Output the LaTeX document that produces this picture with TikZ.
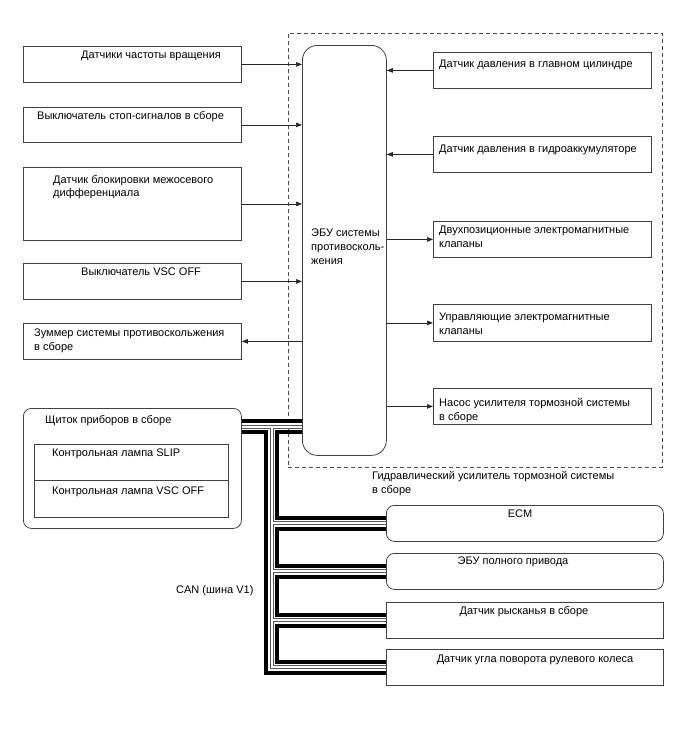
\documentclass[tikz,border=0pt]{standalone}
\usepackage{fontspec}
\setmainfont{Liberation Sans}
\usetikzlibrary{arrows.meta}

\begin{document}
\begin{tikzpicture}[x=1pt, y=-1pt,
  every node/.style={font=\fontsize{11}{13.7}\selectfont, inner sep=0pt},
  blk/.style ={draw=black!75, line width=0.8pt, anchor=north west, minimum width=218, minimum height=36},
  rblk/.style={blk, rounded corners=8pt},
  dev/.style ={blk, minimum width=277},
  grp/.style ={draw=black!70, line width=0.7pt, dash pattern=on 4pt off 3pt, anchor=north west},
  lbl/.style ={anchor=north west, align=left},
  clbl/.style={anchor=north},
  flow/.style={-{Triangle[length=6pt,width=4.5pt]}, line width=0.7pt, black!85},
  canh/.style={line width=3.5pt, black},
  canlo/.style={line width=4pt, black!65},
  canli/.style={line width=2pt, white},
]
\useasboundingbox (0,0) rectangle (688,755);

% hydraulic booster assembly
\node[grp, minimum width=374, minimum height=434] (hyd) at (288,33) {};
\node[lbl] (hydt) at (372,471) {Гидравлический усилитель тормозной системы\\в сборе};

% skid control ECU
\node[blk, rounded corners=15pt, minimum width=84, minimum height=410] (ecu) at (302,45) {};
\node[lbl] (ecut) at (311,229) {ЭБУ системы\\противосколь-\\жения};

% left column
\node[blk] (spd) at (23,46) {};
\node[lbl] (spdt) at (81,51) {Датчики частоты вращения};
\node[blk, minimum height=35] (stp) at (23,107) {};
\node[lbl] (stpt) at (37,111) {Выключатель стоп-сигналов в сборе};
\node[blk, minimum height=73] (ctd) at (23,167) {};
\node[lbl] (ctdt) at (53,175) {Датчик блокировки межосевого\\дифференциала};
\node[blk] (vsc) at (23,263) {};
\node[lbl] (vsct) at (81,268) {Выключатель VSC OFF};
\node[blk] (buz) at (23,323) {};
\node[lbl] (buzt) at (34,329) {Зуммер системы противоскольжения\\в сборе};

% combination meter
\node[rblk, minimum height=120] (clu) at (23,408) {};
\node[lbl] (clut) at (45,415) {Щиток приборов в сборе};
\node[blk, minimum width=194] (slip) at (34,444) {};
\node[lbl] (slipt) at (52,449) {Контрольная лампа SLIP};
\node[blk, minimum width=194, minimum height=37] (vscl) at (34,480) {};
\node[lbl] (vsclt) at (52,487) {Контрольная лампа VSC OFF};

% right column
\node[blk] (mcp) at (433,52) {};
\node[lbl] (mcpt) at (439,60) {Датчик давления в главном цилиндре};
\node[blk] (acc) at (433,136) {};
\node[lbl] (acct) at (439,145) {Датчик давления в гидроаккумуляторе};
\node[blk] (sol2) at (433,221) {};
\node[lbl] (sol2t) at (439,226) {Двухпозиционные электромагнитные\\клапаны};
\node[blk, minimum height=37] (solc) at (433,304) {};
\node[lbl] (solct) at (439,313) {Управляющие электромагнитные\\клапаны};
\node[blk] (pump) at (433,388) {};
\node[lbl] (pumpt) at (439,398) {Насос усилителя тормозной системы\\в сборе};

% CAN devices
\node[dev, rounded corners=8pt] (ecm) at (386,505) {};
\node[clbl] (ecmt) at (520,510) {ECM};
\node[dev, rounded corners=8pt] (fwd) at (386,553) {};
\node[clbl] (fwdt) at (513,557) {ЭБУ полного привода};
\node[dev] (yaw) at (386,602) {};
\node[clbl] (yawt) at (524,606) {Датчик рысканья в сборе};
\node[dev] (steer) at (386,649) {};
\node[clbl] (steert) at (535,655) {Датчик угла поворота рулевого колеса};
\node[lbl] (can) at (176,585) {CAN (шина V1)};

% signals
\foreach \n in {spd,stp,ctd,vsc}
  \draw[flow] (\n.east) -- (\n.east -| ecu.west);
\draw[flow] (buz.east -| ecu.west) -- (buz.east);
\foreach \n in {mcp,acc}
  \draw[flow] (\n.west) -- (\n.west -| ecu.east);
\foreach \n in {sol2,solc,pump}
  \draw[flow] (\n.west -| ecu.east) -- (\n.west);

% CAN bus
\coordinate (hi)  at ([yshift=-13pt]clu.north east);
\coordinate (lo)  at ([yshift=-19pt]clu.north east);
\coordinate (ret) at ([yshift=-24pt]clu.north east);
\coordinate (tee) at ([xshift=30pt]lo);

\draw[canh] (hi) -- (hi -| ecu.west);
\draw[canh] (ret) -- ++(24,0) |- ([yshift=-5.5pt]steer.west);
\draw[canh] (ret -| ecu.west) -- ++(-25,0) |- ([yshift=5.5pt]ecm.west);
\foreach \a/\b in {ecm/fwd, fwd/yaw, yaw/steer}
  \draw[canh] ([yshift=-5.5pt]\a.west) -- ++(-109,0) |- ([yshift=5.5pt]\b.west);
\foreach \s in {canlo,canli} {
  \draw[\s] (lo) -- (lo -| ecu.west);
  \draw[\s] (tee) |- (steer.west);
  \foreach \d in {ecm,fwd,yaw}
    \draw[\s] (tee |- \d.west) -- (\d.west);
}
\end{tikzpicture}
\end{document}
